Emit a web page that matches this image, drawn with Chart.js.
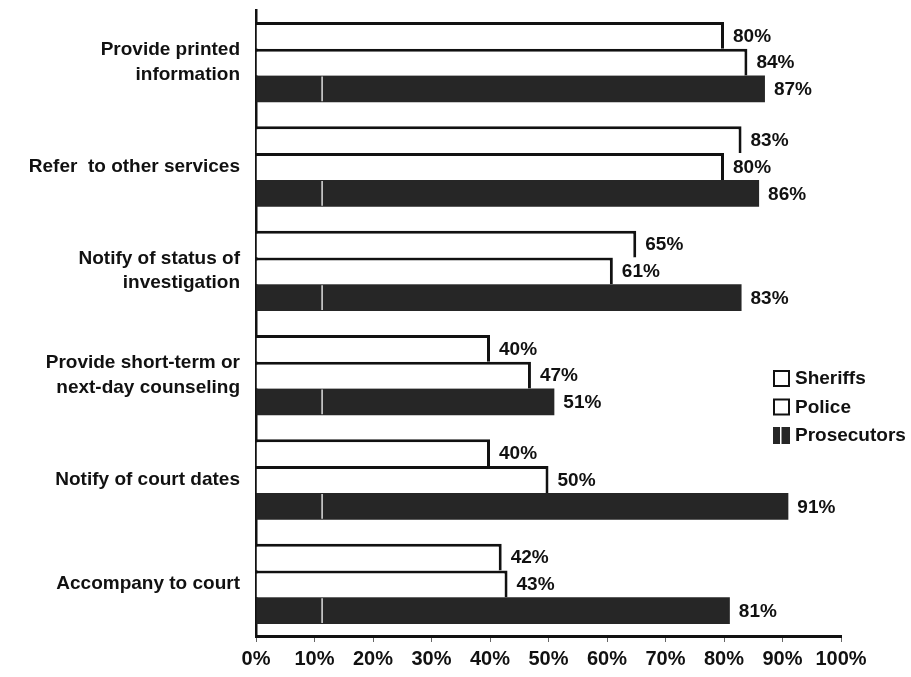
<!DOCTYPE html>
<html>
<head>
<meta charset="utf-8">
<script src="https://cdn.jsdelivr.net/npm/chart.js@4/dist/chart.umd.min.js"></script>
<style>
  html, body { margin: 0; padding: 0; background: #fff; }
  #wrap { position: relative; width: 911px; height: 677px; }
</style>
</head>
<body>
<div id="wrap"><canvas id="services-chart" width="911" height="677"></canvas></div>
<script>
'use strict';

const categories = [
  ['Provide printed', 'information'],
  'Refer  to other services',
  ['Notify of status of', 'investigation'],
  ['Provide short-term or', 'next-day counseling'],
  'Notify of court dates',
  'Accompany to court',
];
const sheriffs = [80, 83, 65, 40, 40, 42];
const police = [84, 80, 61, 47, 50, 43];
const prosecutors = [87, 86, 83, 51, 91, 81];
const tickValues = [0, 10, 20, 30, 40, 50, 60, 70, 80, 90, 100];

const INK = '#111';
const DARK = '#262626';
const FONT = '"Liberation Sans", Arial, Helvetica, sans-serif';

function outlined(label, data) {
  return {
    label, data,
    backgroundColor: '#fff',
    borderColor: INK,
    borderWidth: { top: 3, right: 3, bottom: 0, left: 0 },
    borderSkipped: false,
  };
}

// percent labels just past each bar end
const valueLabels = {
  id: 'valueLabels',
  afterDatasetsDraw(chart) {
    const ctx = chart.ctx;
    ctx.save();
    ctx.font = `bold 19px ${FONT}`;
    ctx.fillStyle = INK;
    ctx.textBaseline = 'middle';
    chart.data.datasets.forEach((ds, i) => {
      chart.getDatasetMeta(i).data.forEach((bar, j) => {
        ctx.fillText(ds.data[j] + '%', bar.x + 9, bar.y + 1);
      });
    });
    ctx.restore();
  },
};

// scan artefact: thin white streak through the dark bars
const streak = {
  id: 'streak',
  afterDatasetsDraw(chart) {
    const ctx = chart.ctx;
    const x = chart.scales.x.getPixelForValue(11.3);
    ctx.save();
    ctx.strokeStyle = 'rgba(255,255,255,0.85)';
    ctx.lineWidth = 1.5;
    chart.getDatasetMeta(2).data.forEach(bar => {
      const h = bar.height / 2;
      ctx.beginPath();
      ctx.moveTo(x, bar.y - h + 1);
      ctx.lineTo(x, bar.y + h - 1);
      ctx.stroke();
    });
    ctx.restore();
  },
};

const boxLegend = {
  id: 'boxLegend',
  afterDraw(chart) {
    const ctx = chart.ctx;
    ctx.save();
    ctx.font = `bold 19px ${FONT}`;
    ctx.textBaseline = 'middle';
    chart.data.datasets.forEach((ds, i) => {
      const x = 773, y = 370 + i * 28.5;
      if (i === 2) {
        ctx.fillStyle = DARK;
        ctx.fillRect(x, y, 17, 17);
        ctx.fillStyle = '#fff';
        ctx.fillRect(x + 7, y, 1.5, 17);
      } else {
        ctx.strokeStyle = INK;
        ctx.lineWidth = 2;
        ctx.strokeRect(x + 1, y + 1, 15, 15);
      }
      ctx.fillStyle = INK;
      ctx.fillText(ds.label, x + 22, y + 9);
    });
    ctx.restore();
  },
};

const ctx = document.getElementById('services-chart').getContext('2d');
new Chart(ctx, {
  type: 'bar',
  data: {
    labels: categories,
    datasets: [
      outlined('Sheriffs', sheriffs),
      outlined('Police', police),
      { label: 'Prosecutors', data: prosecutors, backgroundColor: DARK, borderWidth: 0 },
    ],
  },
  options: {
    indexAxis: 'y',
    responsive: false,
    animation: false,
    events: [],
    layout: { padding: { top: 10, right: 70, bottom: 0, left: 0 } },
    datasets: { bar: { categoryPercentage: 0.77, barPercentage: 1 } },
    plugins: { legend: { display: false }, tooltip: { enabled: false } },
    scales: {
      x: {
        min: 0,
        max: 100,
        afterBuildTicks: s => { s.ticks = tickValues.map(v => ({ value: v })); },
        afterFit: s => { s.height = 41; s.paddingLeft = 0; s.paddingRight = 0; },
        grid: { drawOnChartArea: false, drawTicks: true, tickLength: 6, color: '#666', lineWidth: 1 },
        border: { display: true, color: INK, width: 3 },
        ticks: {
          padding: 5,
          color: INK,
          font: { family: FONT, size: 20, weight: 'bold' },
          callback: v => v + '%',
          maxRotation: 0,
          autoSkip: false,
        },
      },
      y: {
        afterFit: s => { s.width = 256; s.paddingTop = 0; s.paddingBottom = 0; },
        grid: { display: true, drawOnChartArea: false, drawTicks: false },
        border: { display: true, color: INK, width: 2.5 },
        ticks: {
          padding: 16,
          color: INK,
          font: { family: FONT, size: 19, weight: 'bold', lineHeight: 1.3 },
        },
      },
    },
  },
  plugins: [valueLabels, streak, boxLegend],
});
</script>
</body>
</html>
